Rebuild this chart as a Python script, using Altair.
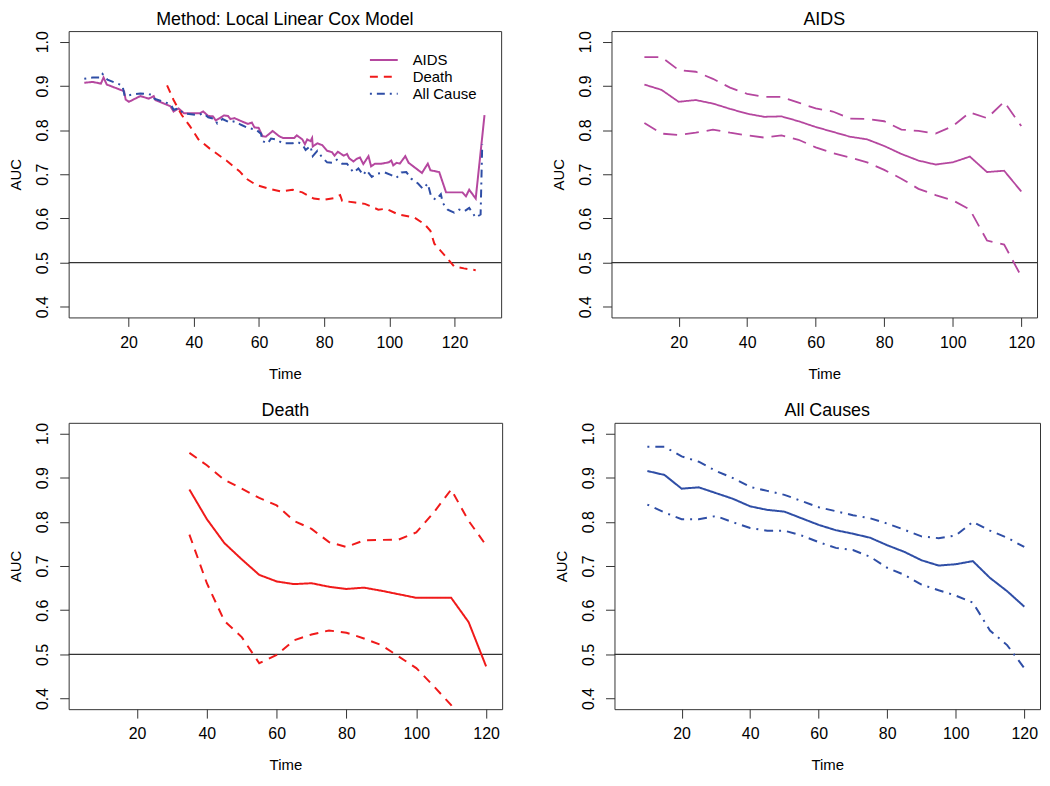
import altair as alt
import pandas as pd

FONT = "Liberation Sans"
C_AIDS = "#B5479F"
C_DEATH = "#F01A1A"
C_ALL = "#2F4EA6"
BOX = "#333333"

# ---------------- Panel 1: Local Linear Cox Model (all three curves) -------------
p1_aids_t = [6.4, 9.0, 11.5, 12.3, 13.3, 18.6, 19.1, 20.1, 23.6, 26.2, 27.7, 28.2, 32.8, 33.8,
             35.3, 37.0, 41.9, 42.9, 44.4, 45.9, 46.7, 48.0, 49.2, 50.5, 51.2, 52.5, 54.0, 56.6,
             57.8, 58.6, 59.9, 61.1, 62.1, 62.9, 64.2, 66.2, 67.4, 70.8, 71.6, 73.3, 74.1, 74.8,
             75.8, 76.3, 76.5, 77.9, 79.4, 80.9, 82.4, 83.2, 84.2, 86.0, 87.0, 87.7, 89.0, 90.0,
             91.0, 92.0, 93.6, 94.4, 95.6, 97.6, 99.8, 100.6, 101.2, 102.2, 103.2, 104.9, 105.9,
             110.0, 111.8, 112.6, 115.3, 117.4, 122.4, 123.5, 124.5, 126.5, 129.2]
p1_aids_auc = [0.907, 0.909, 0.905, 0.919, 0.903, 0.888, 0.869, 0.864, 0.877, 0.871, 0.877, 0.868,
               0.854, 0.842, 0.849, 0.838, 0.838, 0.842, 0.832, 0.831, 0.822, 0.827, 0.833, 0.832,
               0.825, 0.827, 0.822, 0.814, 0.817, 0.806, 0.805, 0.786, 0.785, 0.790, 0.798, 0.786,
               0.782, 0.782, 0.788, 0.779, 0.768, 0.779, 0.775, 0.782, 0.763, 0.770, 0.766, 0.753,
               0.750, 0.742, 0.751, 0.742, 0.746, 0.736, 0.729, 0.735, 0.738, 0.723, 0.741, 0.718,
               0.724, 0.724, 0.727, 0.731, 0.720, 0.726, 0.724, 0.741, 0.726, 0.703, 0.724, 0.709,
               0.705, 0.659, 0.659, 0.650, 0.665, 0.645, 0.834]

p1_death_t = [31.8, 33.8, 36.3, 38.8, 41.4, 44.9, 50.0, 54.0, 56.1, 59.1, 63.2, 66.7, 70.3, 73.3,
              76.8, 79.9, 82.9, 84.9, 85.5, 89.5, 92.5, 96.6, 99.1, 102.7, 107.7, 110.8, 112.6,
              113.8, 117.4, 119.9, 122.9, 126.5]
p1_death_auc = [0.901, 0.868, 0.834, 0.809, 0.779, 0.758, 0.731, 0.707, 0.690, 0.676, 0.667, 0.661,
                0.665, 0.659, 0.645, 0.642, 0.646, 0.653, 0.640, 0.636, 0.633, 0.620, 0.622, 0.609,
                0.602, 0.587, 0.572, 0.543, 0.513, 0.491, 0.487, 0.483]

p1_all_t = [6.4, 9.0, 11.5, 12.0, 13.5, 18.1, 18.8, 21.6, 23.6, 27.2, 27.9, 32.3, 33.0, 33.8, 35.3,
            36.8, 41.4, 42.9, 44.4, 46.4, 47.2, 48.8, 51.0, 52.5, 54.5, 56.6, 59.1, 60.6, 61.1,
            62.7, 63.7, 65.2, 66.2, 67.2, 70.3, 71.8, 73.3, 74.3, 75.8, 76.5, 77.9, 79.4, 80.9,
            82.9, 83.9, 85.5, 87.0, 89.0, 90.5, 92.0, 93.0, 94.6, 96.1, 98.6, 100.6, 102.2, 103.7,
            105.2, 106.7, 108.8, 110.3, 111.8, 112.8, 114.3, 115.8, 116.4, 117.9, 119.9, 121.4,
            123.0, 124.5, 126.5, 128.0, 128.5]
p1_all_auc = [0.916, 0.919, 0.919, 0.927, 0.914, 0.901, 0.877, 0.881, 0.883, 0.880, 0.871, 0.860,
              0.857, 0.846, 0.849, 0.838, 0.834, 0.838, 0.829, 0.825, 0.815, 0.825, 0.817, 0.820,
              0.812, 0.805, 0.801, 0.792, 0.775, 0.770, 0.781, 0.779, 0.775, 0.770, 0.770, 0.773,
              0.768, 0.755, 0.764, 0.741, 0.753, 0.738, 0.727, 0.726, 0.733, 0.724, 0.724, 0.704,
              0.713, 0.698, 0.709, 0.694, 0.701, 0.704, 0.698, 0.692, 0.704, 0.705, 0.690, 0.679,
              0.667, 0.679, 0.650, 0.642, 0.655, 0.635, 0.620, 0.613, 0.620, 0.616, 0.624, 0.602,
              0.609, 0.768]

# ---------------- Panel 2: AIDS with bands ----------------
aids_time = [10, 15, 20, 25, 30, 35, 40, 45, 50, 55, 60, 65, 70, 75, 80, 85, 90, 95, 100, 105,
             110, 115, 120]
aids_est = [0.903, 0.891, 0.864, 0.868, 0.860, 0.848, 0.837, 0.830, 0.831, 0.820, 0.807, 0.796,
            0.785, 0.779, 0.764, 0.746, 0.731, 0.722, 0.727, 0.740, 0.705, 0.708, 0.661]
aids_hi = [0.965, 0.965, 0.936, 0.932, 0.916, 0.896, 0.882, 0.875, 0.875, 0.862, 0.849, 0.842,
           0.826, 0.825, 0.820, 0.801, 0.798, 0.792, 0.809, 0.840, 0.827, 0.864, 0.809]
aids_lo = [0.816, 0.792, 0.789, 0.794, 0.801, 0.794, 0.788, 0.783, 0.788, 0.778, 0.761, 0.748,
           0.738, 0.727, 0.710, 0.690, 0.667, 0.653, 0.641, 0.620, 0.550, 0.541, 0.469]

# ---------------- Panel 3: Death with bands ----------------
death_time = [35, 40, 45, 50, 55, 60, 65, 70, 75, 80, 85, 90, 95, 100, 105, 110, 115, 120]
death_est = [0.873, 0.806, 0.752, 0.715, 0.680, 0.665, 0.659, 0.661, 0.653, 0.648, 0.651, 0.644,
             0.636, 0.628, 0.628, 0.628, 0.573, 0.473]
death_hi = [0.956, 0.928, 0.895, 0.875, 0.854, 0.837, 0.802, 0.784, 0.754, 0.743, 0.758, 0.759,
            0.760, 0.776, 0.821, 0.873, 0.802, 0.747]
death_lo = [0.771, 0.661, 0.576, 0.539, 0.480, 0.499, 0.532, 0.545, 0.554, 0.549, 0.536, 0.521,
            0.495, 0.469, 0.428, 0.385, 0.330, 0.280]

# ---------------- Panel 4: All causes with bands ----------------
all_time = [10, 15, 20, 25, 30, 35, 40, 45, 50, 55, 60, 65, 70, 75, 80, 85, 90, 95, 100, 105,
            110, 115, 120]
all_est = [0.915, 0.906, 0.875, 0.878, 0.865, 0.852, 0.835, 0.827, 0.823, 0.808, 0.793, 0.781,
           0.773, 0.764, 0.747, 0.732, 0.713, 0.701, 0.704, 0.711, 0.673, 0.643, 0.608]
all_hi = [0.970, 0.970, 0.948, 0.936, 0.915, 0.899, 0.879, 0.870, 0.861, 0.847, 0.833, 0.824,
          0.815, 0.808, 0.796, 0.782, 0.767, 0.763, 0.769, 0.800, 0.780, 0.764, 0.743]
all_lo = [0.839, 0.821, 0.806, 0.806, 0.813, 0.799, 0.786, 0.780, 0.780, 0.769, 0.754, 0.741,
          0.736, 0.721, 0.696, 0.680, 0.658, 0.645, 0.633, 0.617, 0.554, 0.521, 0.469]

series_names = ["AIDS", "Death", "All Cause"]
x_ticks = [20, 40, 60, 80, 100, 120]
y_ticks = [0.4, 0.5, 0.6, 0.7, 0.8, 0.9, 1.0]
ref_level = [0.5]

Y_DOMAIN = [0.376, 1.024]
H = 288
TITLE_KW = dict(fontSize=18, fontWeight="normal", font=FONT, color="black", offset=2)


def x_enc(domain):
    return alt.X("t:Q", scale=alt.Scale(domain=domain, nice=False, zero=False),
                 axis=alt.Axis(values=x_ticks, format="d", title="Time"))


def y_enc():
    return alt.Y("auc:Q", scale=alt.Scale(domain=Y_DOMAIN, nice=False, zero=False),
                 axis=alt.Axis(values=y_ticks, format=".1f", title="AUC",
                               labelAngle=270, labelAlign="center", labelBaseline="bottom"))


def hline():
    return alt.Chart(pd.DataFrame({"auc": ref_level})).mark_rule(
        color=BOX, strokeWidth=1.2).encode(y=alt.Y("auc:Q"))


def band_panel(title, t, est, lo, hi, color, dash, xdom, w, sw=2):
    layers = []
    for vals, d in [(est, [1, 0]), (hi, dash), (lo, dash)]:
        df = pd.DataFrame({"t": t, "auc": vals})
        layers.append(alt.Chart(df).mark_line(color=color, strokeWidth=sw, strokeDash=d, clip=True)
                      .encode(x=x_enc(xdom), y=y_enc()))
    return alt.layer(hline(), *layers).properties(
        width=w, height=H, title=alt.TitleParams(title, **TITLE_KW))


# Panel 1 (legend: long horizontal stroke symbol, compact rows as in R's legend())
color_scale = alt.Scale(domain=series_names, range=[C_AIDS, C_DEATH, C_ALL])
dash_scale = alt.Scale(domain=series_names, range=[[1, 0], [8, 6], [2, 5, 8, 5]])
legend = alt.Legend(title=None, orient="none", legendX=309, legendY=21, symbolType="M-2,0L2,0",
                    symbolSize=196, symbolStrokeWidth=2, labelFontSize=15, labelFont=FONT,
                    labelColor="black", labelOffset=21, rowPadding=1, padding=0)

p1_layers = [hline()]
for name, t, v in [("AIDS", p1_aids_t, p1_aids_auc), ("Death", p1_death_t, p1_death_auc),
                   ("All Cause", p1_all_t, p1_all_auc)]:
    df = pd.DataFrame({"t": t, "auc": v, "series": name})
    p1_layers.append(
        alt.Chart(df).mark_line(strokeWidth=2, clip=True).encode(
            x=x_enc([1.6, 134.3]), y=y_enc(),
            color=alt.Color("series:N", scale=color_scale, legend=legend),
            strokeDash=alt.StrokeDash("series:N", scale=dash_scale, legend=legend),
        )
    )
p1 = alt.layer(*p1_layers).properties(
    width=435, height=H,
    title=alt.TitleParams("Method: Local Linear Cox Model", **TITLE_KW))

p2 = band_panel("AIDS", aids_time, aids_est, aids_lo, aids_hi, C_AIDS, [14, 8],
                [0.4, 124.6], 428, sw=1.8)
p3 = band_panel("Death", death_time, death_est, death_lo, death_hi, C_DEATH, [9, 7],
                [0.4, 124.6], 436)
p4 = band_panel("All Causes", all_time, all_est, all_lo, all_hi, C_ALL, [2, 6, 9, 6],
                [0.4, 124.6], 428)

row1 = alt.hconcat(p1, p2, spacing=48).resolve_scale(color="independent", strokeDash="independent")
row2 = alt.hconcat(p3, p4, spacing=50).resolve_scale(color="independent", strokeDash="independent")

chart = alt.vconcat(row1, row2, spacing=20).resolve_scale(
    color="independent", strokeDash="independent"
).properties(padding=0).configure_view(
    stroke=BOX, strokeWidth=1
).configure_axis(
    domain=False, grid=False, tickColor=BOX, tickSize=9, tickWidth=1,
    labelFont=FONT, labelFontSize=16, labelColor="black",
    titleFont=FONT, titleFontSize=15, titleFontWeight="normal", titleColor="black",
).configure_axisX(labelPadding=8, titlePadding=16).configure_axisY(
    labelPadding=9, titlePadding=11
)

chart.save("out.html", embed_options={"renderer": "svg", "actions": False})
